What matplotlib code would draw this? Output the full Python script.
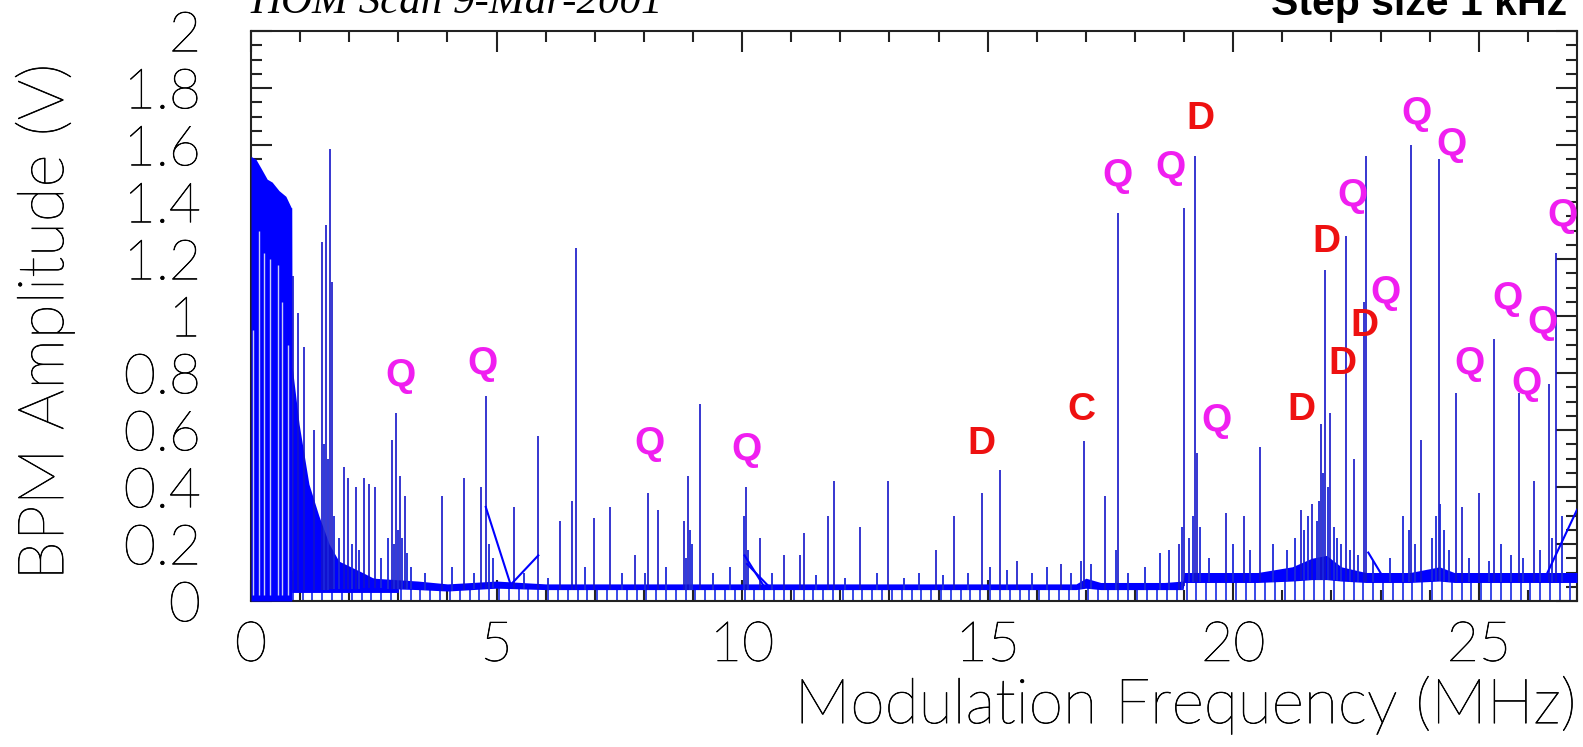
import numpy as np
import matplotlib
matplotlib.use("Agg")
import matplotlib.pyplot as plt
import matplotlib.patheffects as pe
from matplotlib.ticker import FixedLocator, FixedFormatter, MultipleLocator

# ---- scan data (MHz, V) ----
# dense low-frequency block: upper envelope
block_freq = [0.0, 0.10, 0.20, 0.33, 0.43, 0.57, 0.71, 0.82, 0.83]
block_amp = [1.56, 1.55, 1.52, 1.48, 1.47, 1.44, 1.42, 1.38, 1.38]

# gaps inside the block where the trace leaves white columns
gap_freq = [0.05, 0.16, 0.27, 0.38, 0.55, 0.64, 0.76]
gap_top = [0.95, 1.30, 1.22, 1.20, 1.18, 1.05, 0.90]

# decaying skirt after the block
skirt_freq = [0.83, 0.84, 0.98, 1.18, 1.38, 1.59, 1.79, 2.27, 2.61, 3.00]
skirt_amp = [1.38, 0.82, 0.62, 0.41, 0.30, 0.20, 0.14, 0.10, 0.07, 0.055]

# noise floor band (lower / upper edge)
floor_freq = [0.8, 1.5, 2.5, 3.4, 4.0, 4.5, 5.0, 6.0, 16.8, 17.0, 17.3,
              18.6, 18.98, 19.0, 19.5, 20.5, 21.2, 21.6, 21.9, 22.2, 22.7,
              23.6, 24.2, 24.5, 26.5, 27.0]
floor_low = [0.040, 0.040, 0.045, 0.040, 0.035, 0.040, 0.045, 0.040, 0.040,
             0.045, 0.040, 0.040, 0.040, 0.065, 0.065, 0.065, 0.070, 0.075,
             0.075, 0.070, 0.065, 0.065, 0.070, 0.065, 0.065, 0.065]
floor_high = [0.11, 0.09, 0.08, 0.07, 0.06, 0.065, 0.07, 0.06, 0.06, 0.08,
              0.065, 0.065, 0.07, 0.10, 0.10, 0.10, 0.12, 0.15, 0.16, 0.12,
              0.10, 0.10, 0.12, 0.10, 0.10, 0.10]

# regular readout dropouts to zero
dropout_start = 0.05
dropout_step = 0.2

# resonance lines
peak_freq = [0.86, 0.96, 1.08, 1.28, 1.44, 1.52, 1.61, 1.64, 1.89, 1.97,
             2.13, 2.30, 2.40, 2.52, 2.87, 2.95, 3.03, 3.13, 3.88, 4.34,
             4.68, 4.78, 5.36, 5.85, 6.29, 6.54, 6.61, 6.99, 7.31, 7.81,
             8.09, 8.29, 8.82, 8.90, 9.15, 10.07, 10.37, 10.86, 11.18, 11.26,
             11.75, 11.87, 12.40, 12.97, 13.94, 14.32, 14.88, 15.25, 15.60, 16.50,
             16.96, 17.38, 17.66, 18.90, 18.99, 19.22, 19.27, 19.85, 20.22, 20.54,
             21.38, 21.61, 21.78, 21.86, 21.98, 22.29, 22.45, 22.67, 22.70, 23.62,
             23.82, 24.18, 24.53, 24.65, 25.01, 25.30, 25.82, 26.13, 26.42, 26.57]
peak_amp = [1.14, 1.01, 0.89, 0.60, 1.26, 1.32, 1.585, 1.12, 0.47, 0.43,
            0.40, 0.43, 0.41, 0.40, 0.565, 0.66, 0.44, 0.37, 0.37, 0.43,
            0.40, 0.72, 0.33, 0.58, 0.28, 0.35, 1.24, 0.29, 0.33, 0.16,
            0.38, 0.32, 0.28, 0.44, 0.69, 0.40, 0.22, 0.16, 0.16, 0.24,
            0.30, 0.42, 0.26, 0.42, 0.18, 0.30, 0.38, 0.46, 0.14, 0.13,
            0.56, 0.37, 1.36, 0.20, 1.38, 1.56, 0.52, 0.31, 0.30, 0.54,
            0.32, 0.34, 0.62, 1.16, 0.66, 1.28, 0.50, 1.05, 1.56, 1.60,
            0.565, 1.55, 0.73, 0.33, 0.38, 0.92, 0.73, 0.42, 0.76, 1.22]

# small satellite lines clustered around the modes
minor_freq = [1.48, 1.56, 1.70, 1.80, 2.05, 2.20, 2.65, 2.78, 2.92, 2.99,
              3.07, 3.18, 3.25, 3.55, 4.10, 4.55, 4.85, 4.92, 5.55, 6.05,
              6.80, 7.55, 8.02, 8.45, 8.86, 8.93, 8.97, 9.40, 9.75, 10.03,
              10.12, 10.60, 11.50, 12.10, 12.75, 13.30, 13.60, 14.10, 14.60, 15.05,
              15.40, 15.90, 16.20, 16.70, 16.90, 17.10, 17.62, 17.85, 18.20, 18.50,
              18.70, 18.95, 19.10, 19.18, 19.32, 19.50, 20.00, 20.35, 20.80, 21.10,
              21.25, 21.45, 21.52, 21.70, 21.74, 21.82, 21.92, 22.05, 22.12, 22.20,
              22.38, 22.55, 22.85, 23.20, 23.45, 23.58, 23.70, 24.05, 24.12, 24.22,
              24.30, 24.40, 24.80, 25.20, 25.45, 25.65, 25.90, 26.25, 26.50, 26.70]
minor_amp = [0.55, 0.50, 0.30, 0.22, 0.20, 0.18, 0.15, 0.22, 0.20, 0.25,
             0.22, 0.17, 0.12, 0.10, 0.12, 0.10, 0.20, 0.15, 0.10, 0.08,
             0.12, 0.10, 0.10, 0.12, 0.15, 0.25, 0.20, 0.10, 0.12, 0.30,
             0.18, 0.10, 0.09, 0.08, 0.10, 0.08, 0.10, 0.09, 0.10, 0.12,
             0.11, 0.10, 0.12, 0.10, 0.14, 0.13, 0.18, 0.10, 0.12, 0.17,
             0.18, 0.26, 0.22, 0.30, 0.26, 0.15, 0.20, 0.18, 0.20, 0.18,
             0.22, 0.25, 0.30, 0.28, 0.35, 0.45, 0.40, 0.26, 0.22, 0.20,
             0.18, 0.16, 0.14, 0.15, 0.30, 0.25, 0.20, 0.22, 0.30, 0.34,
             0.25, 0.18, 0.15, 0.14, 0.20, 0.16, 0.15, 0.18, 0.22, 0.30]

# sweep return traces
trace_freq = [[4.78, 5.30], [5.25, 5.85], [10.05, 10.45], [10.10, 10.55],
              [22.75, 23.10], [26.40, 27.00]]
trace_amp = [[0.33, 0.05], [0.05, 0.16], [0.16, 0.05], [0.13, 0.05],
              [0.17, 0.07], [0.10, 0.32]]

# mode labels
label_text = ["Q", "Q", "Q", "Q", "D", "C", "Q", "Q", "D", "Q", "D", "D",
              "Q", "D", "D", "Q", "Q", "Q", "Q", "Q", "Q", "Q", "Q"]
label_freq = [3.05, 4.72, 8.11, 10.08, 14.87, 16.91, 17.65, 18.72, 19.33,
              19.65, 21.39, 21.89, 22.42, 22.22, 22.68, 23.10, 23.73, 24.44,
              24.81, 25.58, 25.98, 26.29, 26.70]
label_amp = [0.79, 0.83, 0.55, 0.53, 0.55, 0.67, 1.49, 1.52, 1.69, 0.63,
             0.67, 1.26, 1.42, 0.83, 0.965, 1.08, 1.71, 1.60, 0.83, 1.06,
             0.76, 0.975, 1.35]
label_color = {"Q": "#f01ef0", "D": "#ee1111", "C": "#ee1111"}

y_ticks = [0, 0.2, 0.4, 0.6, 0.8, 1.0, 1.2, 1.4, 1.6, 1.8, 2.0]
y_tick_labels = ["0", "0.2", "0.4", "0.6", "0.8", "1", "1.2", "1.4", "1.6", "1.8", "2"]
x_ticks = [0, 5, 10, 15, 20, 25]
x_tick_labels = ["0", "5", "10", "15", "20", "25"]

# ---- figure ----
W, H = 1583, 747
fig = plt.figure(figsize=(W / 100, H / 100), dpi=100)
ax = fig.add_axes([251 / W, 1 - 601 / H, (1577 - 251) / W, (601 - 31) / H])

blue = "#0000ff"
line_blue = "#1414c8"

# dropouts
drop_x = np.arange(dropout_start, 27.0, dropout_step)
drop_top = np.interp(drop_x, floor_freq, floor_low, left=0.05)
ax.vlines(drop_x, 0, drop_top, color="#2a3ae6", lw=1.3, zorder=2)

# noise floor
ax.fill_between(floor_freq, floor_low, floor_high, color=blue, lw=0, zorder=3)

# low-frequency block and skirt
ax.fill_between(block_freq, 0, block_amp, color=blue, lw=0, zorder=3)
ax.vlines(gap_freq, 0.02, gap_top, color="#c8ccf6", lw=1.0, zorder=3.5)
ax.fill_between(skirt_freq, 0.03, skirt_amp, color=blue, lw=0, zorder=3)

# resonance lines
base = np.interp(peak_freq, floor_freq, floor_low)
ax.vlines(peak_freq, base, peak_amp, color=line_blue, lw=1.2, zorder=4)
mbase = np.interp(minor_freq, floor_freq, floor_low)
ax.vlines(minor_freq, mbase, minor_amp, color="#1c28d8", lw=1.3, zorder=4)

for fx, fy in zip(trace_freq, trace_amp):
    ax.plot(fx, fy, color=blue, lw=1.5, zorder=4)

for t, fx, fy in zip(label_text, label_freq, label_amp):
    ax.text(fx, fy, t, color=label_color[t], fontsize=28, fontweight="bold",
            family="Liberation Sans", ha="center", va="center", zorder=6)

ax.set_xlim(0, 27)
ax.set_ylim(0, 2)

darken = [pe.withStroke(linewidth=0.5, foreground="black")]
thin = dict(family="Lato", weight="light", path_effects=darken)
ax.xaxis.set_major_locator(FixedLocator(x_ticks))
ax.xaxis.set_major_formatter(FixedFormatter(x_tick_labels))
ax.xaxis.set_minor_locator(MultipleLocator(1))
ax.yaxis.set_major_locator(FixedLocator(y_ticks))
ax.yaxis.set_major_formatter(FixedFormatter(y_tick_labels))
ax.yaxis.set_minor_locator(MultipleLocator(0.05))
ax.tick_params(which="both", direction="in", top=True, right=True,
               color="#222222", width=1.5)
ax.tick_params(which="major", length=15)
ax.tick_params(which="minor", length=8)
ax.tick_params(axis="y", which="major", pad=36, labelsize=40)
ax.tick_params(axis="x", which="major", pad=14, labelsize=40)
for lab in ax.get_xticklabels() + ax.get_yticklabels():
    lab.set_family("Lato")
    lab.set_fontweight("light")
    lab.set_path_effects(darken)
for sp in ax.spines.values():
    sp.set_color("#222222")
    sp.set_linewidth(1.5)

fig.text(45 / W, 1 - 322 / H, "BPM Amplitude (V)", rotation=90, ha="center",
         va="center", fontsize=46, **thin)
fig.text(1577 / W, 1 - 705 / H, "Modulation Frequency (MHz)", ha="right",
         va="center", fontsize=45, **thin)
fig.text(250 / W, 1 - 13 / H, "HOM Scan 9-Mar-2001", ha="left", va="baseline",
         fontsize=31, family="Liberation Serif", style="italic")
fig.text(1567 / W, 1 - 15 / H, "Step size 1 kHz", ha="right", va="baseline",
         fontsize=29.5, family="Liberation Sans", fontweight="bold")

fig.savefig("out.png", dpi=100)
